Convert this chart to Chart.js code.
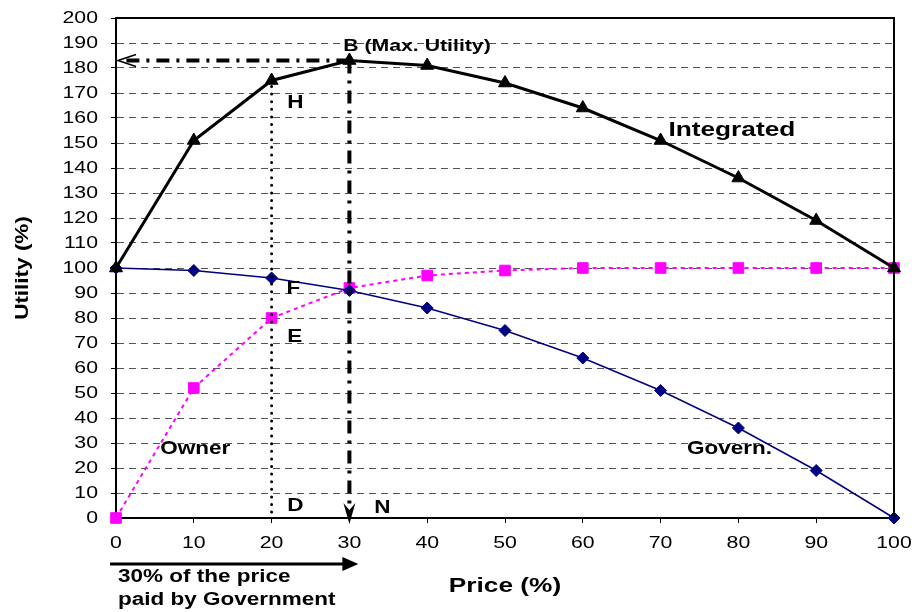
<!DOCTYPE html>
<html><head><meta charset="utf-8">
<script src="https://cdn.jsdelivr.net/npm/chart.js@4/dist/chart.umd.min.js"></script>
<style>html,body{margin:0;padding:0;background:#fff}canvas{display:block}</style>
</head><body>
<canvas id="c" width="915" height="612"></canvas>
<script>
// ---- data ----
const prices = [0, 10, 20, 30, 40, 50, 60, 70, 80, 90, 100];
const integrated = [100, 151, 175, 183, 181, 174, 164, 151, 136, 119, 100];
const owner = [0, 52, 80, 92, 97, 99, 100, 100, 100, 100, 100];
const govern = [100, 99, 96, 91, 84, 75, 64, 51, 36, 19, 0];
const yMin = 0, yMax = 200, yStep = 10;
const xMin = 0, xMax = 100, xStep = 10;
const maxPrice = 30;       // price of max integrated utility (point B)
const maxUtility = 183;    // integrated utility at B
const hPrice = 20;         // point H / D / E / F
const hUtility = 175;

const annotations = [
  {text: 'B (Max. Utility)', x: 29.2, y: 188.5, size: 17},
  {text: 'H', x: 22, y: 166, size: 18},
  {text: 'F', x: 21.9, y: 91.6, size: 18},
  {text: 'E', x: 22, y: 72.4, size: 18},
  {text: 'D', x: 22, y: 4.8, size: 18},
  {text: 'N', x: 33.2, y: 4, size: 18},
  {text: 'Owner', x: 5.7, y: 27.6, size: 18},
  {text: 'Govern.', x: 73.4, y: 27.6, size: 18},
  {text: 'Integrated', x: 71, y: 155.2, size: 21}
];
const noteLines = ['30% of the price', 'paid by Government'];

// ---- horizontal text stretch to mimic the reference rendering ----
const canvas = document.getElementById('c');
const ctx0 = canvas.getContext('2d');
const SX = 1.25;
const origFill = ctx0.fillText;
ctx0.fillText = function (t, x, y) {
  this.save();
  this.translate(x, y);
  this.scale(SX, 1);
  origFill.call(this, t, 0, 0);
  this.restore();
};

const FONT = "'Liberation Sans', Arial, sans-serif";
const toXY = arr => prices.map((p, i) => ({x: p, y: arr[i]}));

const annotPlugin = {
  id: 'annot',
  afterDatasetsDraw(chart) {
    const {ctx, chartArea: ca, scales: {x, y}} = chart;
    ctx.save();
    // frame top/right
    ctx.strokeStyle = '#000';
    ctx.lineWidth = 2;
    ctx.setLineDash([]);
    ctx.beginPath();
    ctx.moveTo(ca.left, ca.top); ctx.lineTo(ca.right, ca.top); ctx.lineTo(ca.right, ca.bottom);
    ctx.stroke();

    const bx = x.getPixelForValue(maxPrice), by = y.getPixelForValue(maxUtility);
    const x0 = x.getPixelForValue(0), y0 = y.getPixelForValue(0);
    // horizontal dash-dot to y axis
    ctx.lineWidth = 4;
    ctx.setLineDash([13, 7, 3, 7]);
    ctx.beginPath(); ctx.moveTo(bx, by); ctx.lineTo(x0 + 6, by); ctx.stroke();
    // vertical dash-dot to x axis
    ctx.beginPath(); ctx.moveTo(bx, by); ctx.lineTo(bx, y0 - 10); ctx.stroke();
    ctx.setLineDash([]);
    // open arrowhead at left
    ctx.lineWidth = 1.5;
    ctx.beginPath();
    ctx.moveTo(x0 + 20, by - 6); ctx.lineTo(x0 + 2, by); ctx.lineTo(x0 + 20, by + 6);
    ctx.stroke();
    // filled arrowhead at bottom
    ctx.fillStyle = '#000';
    ctx.beginPath();
    ctx.moveTo(bx, y0 + 6); ctx.lineTo(bx - 6, y0 - 15); ctx.lineTo(bx, y0 - 8); ctx.lineTo(bx + 6, y0 - 15);
    ctx.closePath(); ctx.fill();

    // dotted vertical at H
    const hx = x.getPixelForValue(hPrice), hy = y.getPixelForValue(hUtility);
    ctx.lineWidth = 3;
    ctx.lineCap = 'round';
    ctx.setLineDash([0, 7.6]);
    ctx.beginPath(); ctx.moveTo(hx, hy + 6); ctx.lineTo(hx, y0 - 2); ctx.stroke();
    ctx.setLineDash([]);
    ctx.lineCap = 'butt';

    // text labels
    ctx.fillStyle = '#000';
    ctx.textAlign = 'left';
    ctx.textBaseline = 'middle';
    annotations.forEach(a => {
      ctx.font = 'bold ' + a.size + 'px ' + FONT;
      ctx.fillText(a.text, x.getPixelForValue(a.x), y.getPixelForValue(a.y));
    });

    // bottom arrow: share paid by government
    const ay = ca.bottom + 46;
    const ax1 = x.getPixelForValue(maxPrice) + 9;
    ctx.lineWidth = 3;
    ctx.beginPath(); ctx.moveTo(x0 - 6, ay); ctx.lineTo(ax1 - 14, ay); ctx.stroke();
    ctx.beginPath();
    ctx.moveTo(ax1, ay); ctx.lineTo(ax1 - 16, ay - 7); ctx.lineTo(ax1 - 16, ay + 7); ctx.closePath(); ctx.fill();
    ctx.font = 'bold 18px ' + FONT;
    ctx.fillText(noteLines[0], x0 + 2, ca.bottom + 59);
    ctx.fillText(noteLines[1], x0 + 2, ca.bottom + 82);
    ctx.restore();
  }
};

new Chart(canvas, {
  type: 'line',
  data: {
    datasets: [
      {
        label: 'Integrated', data: toXY(integrated), clip: false,
        borderColor: '#000', borderWidth: 3,
        pointStyle: 'triangle', pointRadius: 7.5,
        pointBackgroundColor: '#000', pointBorderColor: '#000', pointBorderWidth: 1
      },
      {
        label: 'Govern.', data: toXY(govern), clip: false,
        borderColor: '#000080', borderWidth: 1.5,
        pointStyle: 'rectRot', pointRadius: 6,
        pointBackgroundColor: '#000080', pointBorderColor: '#000080', pointBorderWidth: 1
      },
      {
        label: 'Owner', data: toXY(owner), clip: false,
        borderColor: '#FF00FF', borderWidth: 2, borderDash: [4, 4],
        pointStyle: 'rect', pointRadius: 7.5,
        pointBackgroundColor: '#FF00FF', pointBorderColor: '#FF00FF', pointBorderWidth: 1
      }
    ]
  },
  options: {
    responsive: false,
    animation: false,
    devicePixelRatio: 1,
    layout: {padding: {top: 18, right: 21, left: 0, bottom: 0}},
    plugins: {legend: {display: false}, tooltip: {enabled: false}},
    elements: {line: {tension: 0}},
    scales: {
      x: {
        type: 'linear', min: xMin, max: xMax,
        afterFit: s => { s.height = 94; s.paddingLeft = 0; s.paddingRight = 0; },
        ticks: {stepSize: xStep, color: '#000', font: {family: FONT, size: 17}, padding: 10},
        grid: {display: true, drawOnChartArea: false, drawTicks: true, tickLength: 5, tickColor: '#000', tickWidth: 1},
        border: {display: true, color: '#000', width: 2},
        title: {display: true, text: 'Price (%)', color: '#000', font: {family: FONT, size: 21, weight: 'bold'}, padding: {top: 0, bottom: 13}}
      },
      y: {
        type: 'linear', min: yMin, max: yMax,
        afterFit: s => { s.width = 116; s.paddingTop = 0; s.paddingBottom = 0; },
        ticks: {stepSize: yStep, color: '#000', font: {family: FONT, size: 17}, padding: 13},
        grid: {color: '#555', lineWidth: 1, drawTicks: true, tickLength: 5, tickColor: '#000', tickBorderDash: []},
        border: {display: true, color: '#000', width: 2, dash: [7, 5]},
        title: {display: true, text: 'Utility (%)', color: '#000', font: {family: FONT, size: 18, weight: 'bold'}, padding: {top: 12, bottom: 0}}
      }
    }
  },
  plugins: [annotPlugin]
});
</script>
</body></html>
